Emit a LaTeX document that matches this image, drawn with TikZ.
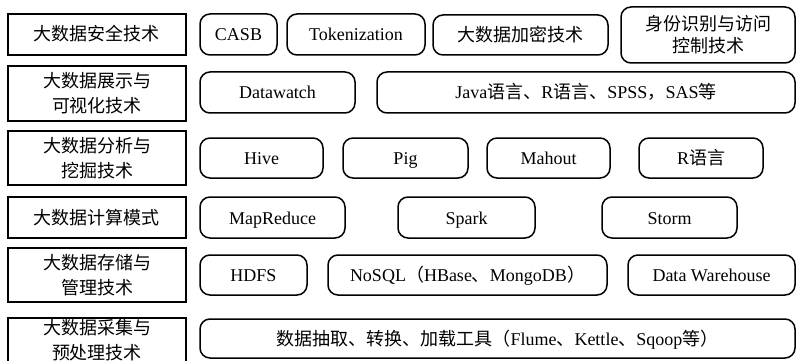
\documentclass[tikz,border=0pt]{standalone}
\usepackage{fontspec}
\setmainfont{Liberation Serif}
\newfontfamily\cjk{Noto Sans CJK SC}
\newcommand{\zh}[1]{{\cjk #1}}
\begin{document}
\begin{tikzpicture}[x=1pt,y=-1pt,
  base/.style={draw=black, line width=1.5pt, inner sep=0pt, align=center,
    font=\fontsize{18}{25}\selectfont},
  sl/.style={text height=15pt, text depth=2pt},
  lbox/.style={base, minimum width=178pt},
  rbox/.style={base, rounded corners=10pt}]
\useasboundingbox (0,0) rectangle (796,361);
% left column
\node[lbox, sl, minimum height=41pt] (L1) at (97,34.5) {\zh{大数据安全技术}};
\node[lbox, minimum height=55pt] (L2) at (97,93.5) {\zh{大数据展示与}\\\zh{可视化技术}};
\node[lbox, minimum height=54pt] (L3) at (97,158) {\zh{大数据分析与}\\\zh{挖掘技术}};
\node[lbox, sl, minimum height=41pt] (L4) at (97,217.5) {\zh{大数据计算模式}};
\node[lbox, minimum height=54pt] (L5) at (97,275) {\zh{大数据存储与}\\\zh{管理技术}};
\node[lbox, minimum height=44pt] (L6) at (97,340) {\zh{大数据采集与}\\\zh{预处理技术}};
% row 1
\node[rbox, sl, minimum width=77pt, minimum height=41pt] (casb) at (238.5,34.5) {CASB};
\node[rbox, sl, minimum width=138pt, minimum height=41pt] (tok) at (356,34.5) {Tokenization};
\node[rbox, sl, minimum width=175pt, minimum height=40pt] (enc) at (520.5,35) {\zh{大数据加密技术}};
\node[rbox, minimum width=174pt, minimum height=56pt, font=\fontsize{18}{22}\selectfont] (iam) at (708,35) {\zh{身份识别与访问}\\\zh{控制技术}};
% row 2
\node[rbox, sl, minimum width=155pt, minimum height=41pt] (dw) at (277.5,92.5) {Datawatch};
\node[rbox, sl, minimum width=418pt, minimum height=41pt] (java) at (586,92.5) {Java\zh{语言、}R\zh{语言、}SPSS\zh{，}SAS\zh{等}};
% row 3
\node[rbox, sl, minimum width=123pt, minimum height=40pt] (hive) at (261.5,158) {Hive};
\node[rbox, sl, minimum width=125pt, minimum height=40pt] (pig) at (405.5,158) {Pig};
\node[rbox, sl, minimum width=123pt, minimum height=40pt] (mahout) at (548.5,158) {Mahout};
\node[rbox, sl, minimum width=124pt, minimum height=40pt] (rlang) at (701,158) {R\zh{语言}};
% row 4
\node[rbox, sl, minimum width=145pt, minimum height=41pt] (mr) at (272.5,217.5) {MapReduce};
\node[rbox, sl, minimum width=137pt, minimum height=41pt] (spark) at (466.5,217.5) {Spark};
\node[rbox, sl, minimum width=135pt, minimum height=41pt] (storm) at (669.5,217.5) {Storm};
% row 5
\node[rbox, sl, minimum width=107pt, minimum height=40pt] (hdfs) at (253.5,275) {HDFS};
\node[rbox, sl, minimum width=279pt, minimum height=40pt] (nosql) at (467.5,275) {NoSQL\zh{（}HBase\zh{、}MongoDB\zh{）}};
\node[rbox, sl, minimum width=167pt, minimum height=40pt] (dwh) at (711.5,275) {Data Warehouse};
% row 6
\node[rbox, sl, minimum width=595pt, minimum height=39pt] (etl) at (497.5,338.5) {\zh{数据抽取、转换、加载工具（}Flume\zh{、}Kettle\zh{、}Sqoop\zh{等）}};
\end{tikzpicture}
\end{document}
